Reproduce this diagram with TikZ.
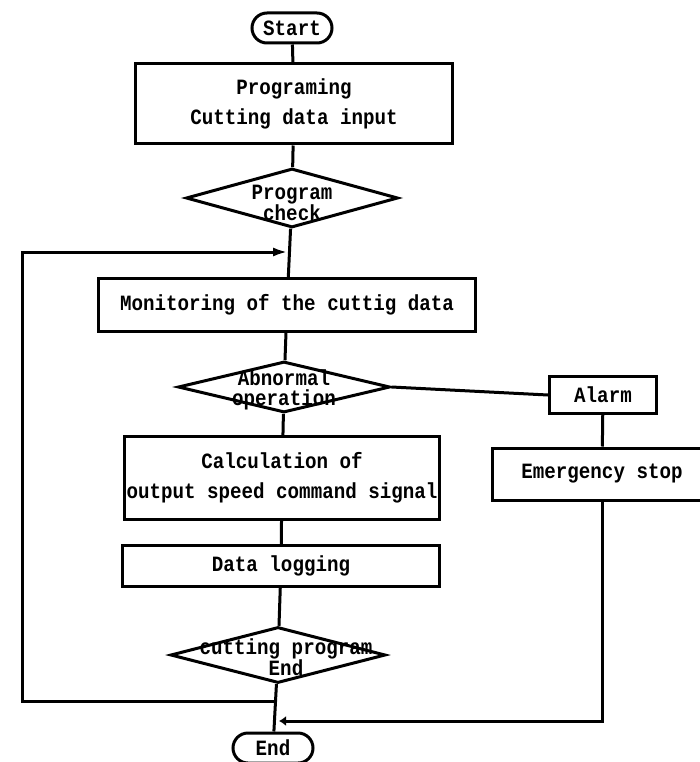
\documentclass[tikz,border=0pt]{standalone}
\usepackage{fontspec}
\setmonofont[FakeStretch=0.88]{Liberation Mono}
\usepackage{tikz}
\usetikzlibrary{positioning}
\usetikzlibrary{arrows.meta}
\usetikzlibrary{shapes.geometric}
\tikzset{chart/.style={x=1pt, y=-1pt, line width=3pt,
font=\ttfamily\bfseries\fontsize{21.8}{30}\selectfont},
block/.style={draw, rectangle, inner sep=0pt, align=center},
term/.style={draw, rectangle, rounded corners=15pt, inner sep=0pt,
minimum width=80pt, minimum height=30pt},
decide/.style={draw, diamond, inner sep=0pt, minimum width=212pt, minimum height=56pt}}

\begin{document}
\begin{tikzpicture}[chart, dtext/.style={inner sep=0pt, align=center,
	font=\ttfamily\bfseries\fontsize{21.8}{20}\selectfont}]
					\useasboundingbox (0,0) rectangle (700,762);
					\clip (0,0) rectangle (700,762);
					\node[term] (start) at (292,28) {Start};
					\node[block, minimum width=317pt, minimum height=80pt] (prog) at (294,104) {Programing\\Cutting data input};
					\node[decide, minimum height=59pt] (check) at (292,198) {};
					\node[dtext] (checktxt) at ([yshift=-5pt]check) {Program\\check};
					\node[block, minimum width=377pt, minimum height=53pt] (mon) at (287,305) {Monitoring of the cuttig data};
					\node[decide, minimum height=51pt] (abn) at (284,387) {};
					\node[dtext] (abntxt) at ([yshift=-3pt]abn) {Abnormal\\operation};
					\node[block, minimum width=107pt, minimum height=37pt] (alarm) at (603,395) {Alarm};
					\node[block, minimum width=220pt, minimum height=52pt] (emg) at (602,474) {Emergency stop};
					\node[block, minimum width=315pt, minimum height=83pt] (calc) at (282,478) {Calculation of\\output speed command signal};
					\node[block, minimum width=317pt, minimum height=41pt] (log) at (281,566) {Data logging};
					\node[decide, minimum width=215pt] (endchk) at (278,655) {};
					\node[dtext] (endchktxt) at ([xshift=8pt, yshift=-2pt]endchk) {cutting program\\End};
					\node[term] (end) at (273,748) {End};
					\coordinate (join) at (275,701);
					\coordinate (loop) at (22,252);
					\coordinate (merge) at (288,252);
					\coordinate (back) at (279,721);
					\draw (start) -- (prog);
					\draw (prog) -- (check);
					\draw (check) -- (mon);
					\draw (mon) -- (abn);
					\draw (abn) -- (calc);
					\draw (calc) -- (log);
					\draw (log) -- (endchk);
					\draw (endchk) -- (end);
					\draw (abn.east) -- (alarm.west);
					\draw (alarm) -- (emg);
					\draw[-{Latex[length=15pt,width=9pt]}] (join) -| (loop) -- (merge);
					\draw[-{Latex[length=7pt,width=10pt]}] (emg) |- (back);
			\end{tikzpicture}
\end{document}
